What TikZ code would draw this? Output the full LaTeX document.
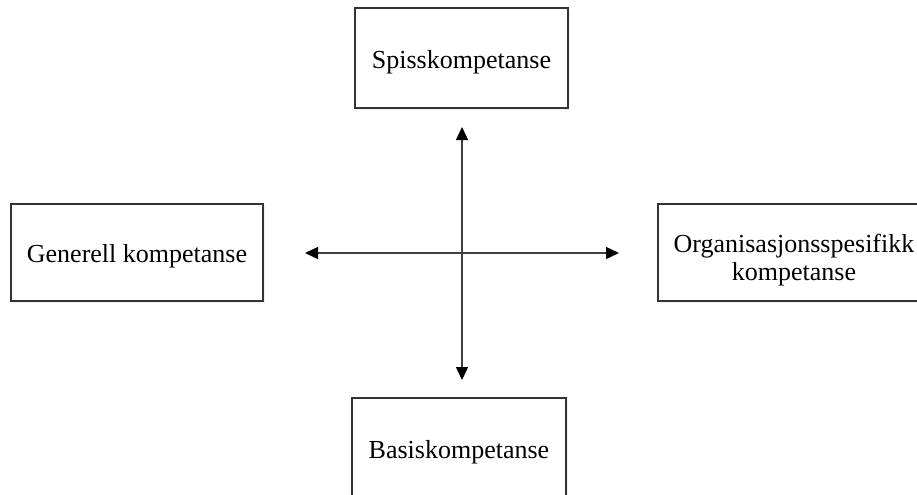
\documentclass[tikz,border=0pt]{standalone}
\usepackage{fontspec}
\setmainfont{Liberation Serif}
\usetikzlibrary{arrows.meta,shadows}

\begin{document}
\begin{tikzpicture}[x=0.5pt,y=-0.5pt,
    kompboks/.style={draw=black!80,line width=0.7pt,fill=white,
      minimum width=#1,minimum height=50pt,font=\fontsize{13}{14}\selectfont,
      align=center,inner sep=0pt,text height=10pt,text depth=0pt,
      drop shadow={opacity=0.12,shadow xshift=0.8pt,shadow yshift=-0.8pt}},
    pil/.style={{Triangle[length=6.5pt,width=6pt,color=black]}-{Triangle[length=6.5pt,width=6pt,color=black]},
      line width=0.7pt,draw=black!75}]
    \clip (0,0) rectangle (917,494);
    % Fire kompetansefelt rundt et aksekors.
    \node[kompboks=106.5pt] (spiss) at (461.5,58) {Spisskompetanse};
    \node[kompboks=126pt,minimum height=48.5pt] (generell) at (137,252.5) {Generell kompetanse};
    \node[kompboks=136pt,minimum height=48.5pt,text height=28pt] (org) at (794,252.5) {Organisasjonsspesifikk\\kompetanse};
    \node[kompboks=107pt] (basis) at (459,448) {Basiskompetanse};
    \coordinate (nord) at (462,127);
    \coordinate (sor) at (462,380);
    \coordinate (vest) at (305,253);
    \coordinate (ost) at (619,253);
    \draw[pil] (nord) -- (sor);
    \draw[pil] (vest) -- (ost);
  \end{tikzpicture}
\end{document}
